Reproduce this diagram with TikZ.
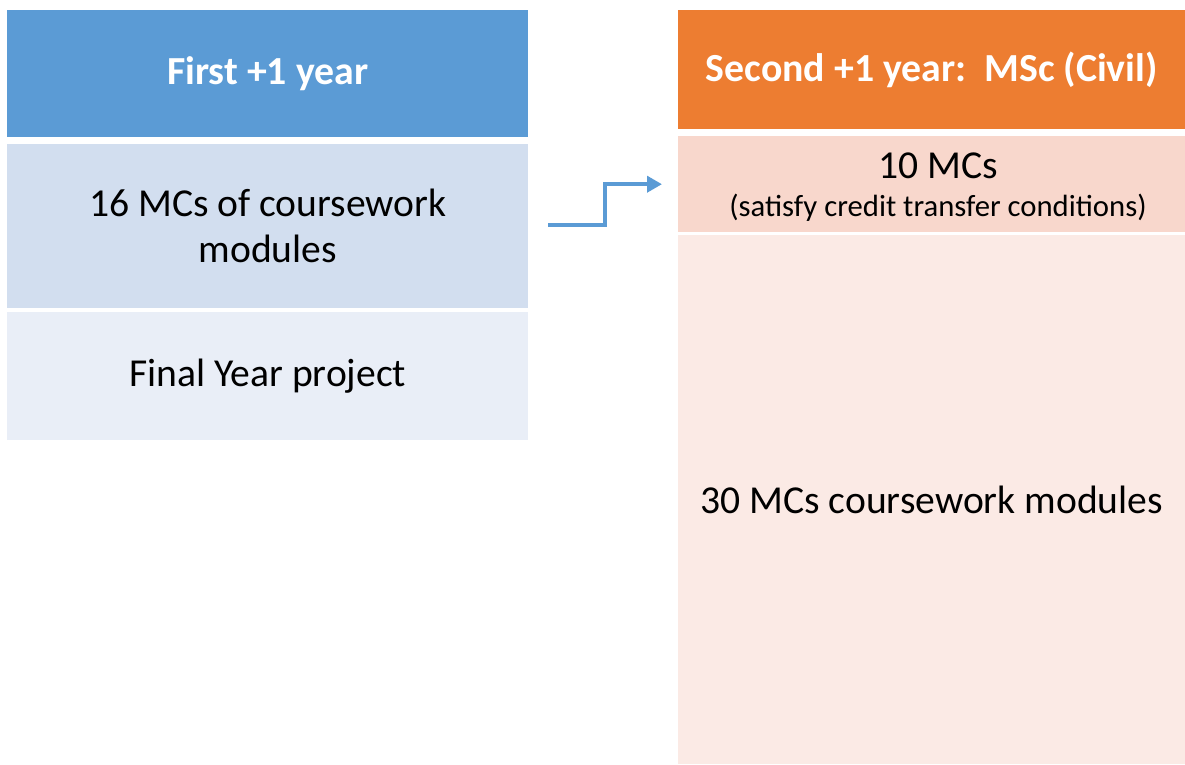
\documentclass[tikz,border=0pt]{standalone}
\usepackage{fontspec}
\setmainfont{Carlito}
\usetikzlibrary{arrows.meta}
\definecolor{hblue}{HTML}{5B9BD5}
\definecolor{mblue}{HTML}{D2DEEF}
\definecolor{lblue}{HTML}{E9EEF7}
\definecolor{horange}{HTML}{ED7D31}
\definecolor{morange}{HTML}{F8D7CC}
\definecolor{lorange}{HTML}{FBEAE5}
\tikzset{
  cell/.style={rectangle, anchor=north west, inner sep=0pt, align=center, text=black},
  headtext/.style={font=\fontsize{39.8}{46}\selectfont\bfseries, text=white},
  bodytext/.style={font=\fontsize{39.6}{46}\selectfont},
  conn/.style={draw=hblue, line width=4.2pt, -{Triangle[length=15pt,width=16pt]}}
}
\begin{document}
\begin{tikzpicture}[x=1pt,y=-1pt]
\useasboundingbox (0,0) rectangle (1185,764);
% left column
\node[cell, fill=hblue, minimum width=521pt, minimum height=127pt, headtext] (h1) at (7,10) {First +1 year};
\node[cell, fill=mblue, minimum width=521pt, minimum height=164pt, bodytext] (b1) at (7,144) {16 MCs of coursework\\modules};
\node[cell, fill=lblue, minimum width=521pt, minimum height=128pt, bodytext] (b2) at (7,312) {Final Year project};
% right column
\node[cell, fill=horange, minimum width=507pt, minimum height=119pt, headtext] (h2) at (678,10) {Second +1 year:\ \ MSc (Civil)};
\node[cell, fill=morange, minimum width=507pt, minimum height=96pt] (c1) at (678,136) {};
\node[font=\fontsize{39.6}{46}\selectfont, anchor=center] (c1a) at (938,166) {10 MCs};
\node[font=\fontsize{30.7}{36}\selectfont, anchor=center] (c1b) at (938,208) {(satisfy credit transfer conditions)};
\node[cell, fill=lorange, minimum width=507pt, minimum height=529pt, bodytext] (c2) at (678,235) {30 MCs coursework modules};
% connector
\coordinate (start) at (548,225);
\draw[conn] (start) -- ++(57,0) |- ([xshift=-16pt]c1.west);
\end{tikzpicture}
\end{document}
